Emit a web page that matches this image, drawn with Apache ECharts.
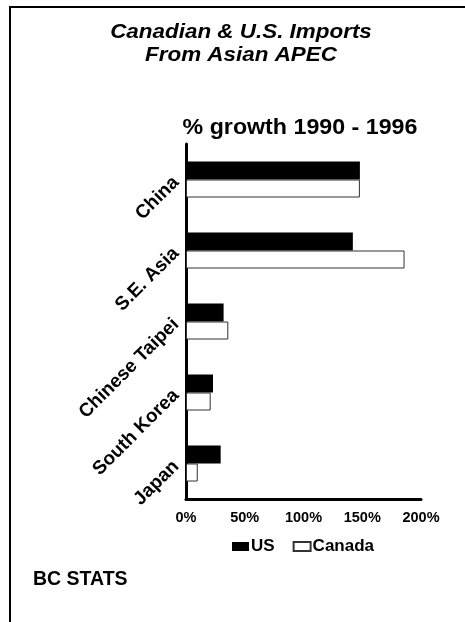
<!DOCTYPE html>
<html>
<head>
<meta charset="utf-8">
<script src="https://cdn.jsdelivr.net/npm/echarts@6/dist/echarts.min.js"></script>
<style>
html,body{margin:0;padding:0;background:#fff;}
#c{width:465px;height:622px;}
</style>
</head>
<body>
<div id="c"></div>
<script>
const categories = ['China', 'S.E. Asia', 'Chinese Taipei', 'South Korea', 'Japan'];
const usValues = [148, 142, 32, 23, 29.5];
const canadaValues = [148, 186, 36, 21, 10];
const xTicks = ['0%', '50%', '100%', '150%', '200%'];
const titleLines = ['Canadian & U.S. Imports', 'From Asian APEC'];
const subTitle = '% growth 1990 - 1996';
const sourceText = 'BC STATS';

const FONT = '"Liberation Sans", Arial, sans-serif';
const chart = echarts.init(document.getElementById('c'), null, {renderer: 'canvas'});
chart.setOption({
  animation: false,
  backgroundColor: '#fff',
  grid: {left: 186, right: 44, top: 144, bottom: 123, containLabel: false},
  xAxis: {
    type: 'value', min: 0, max: 200, interval: 50,
    axisLine: {show: true, lineStyle: {color: '#000', width: 3}},
    axisTick: {show: false},
    splitLine: {show: false},
    axisLabel: {
      margin: 11, color: '#000', fontFamily: FONT, fontWeight: 'bold', fontSize: 14.5,
      formatter: function (v) { return xTicks[Math.round(v / 50)]; }
    }
  },
  yAxis: {
    type: 'category', inverse: true, data: categories,
    axisLine: {show: true, lineStyle: {color: '#000', width: 3}},
    axisTick: {show: false},
    axisLabel: {rotate: 45, margin: 10, color: '#000', fontFamily: FONT, fontWeight: 'bold', fontSize: 19}
  },
  legend: {
    left: 227, top: 533, itemWidth: 17, itemHeight: 9, itemGap: 18,
    icon: 'rect',
    textStyle: {color: '#000', fontFamily: FONT, fontWeight: 'bold', fontSize: 17, padding: [0, 0, 0, -3]},
    data: ['US', 'Canada']
  },
  series: [
    {name: 'US', type: 'bar', data: usValues, barWidth: 18, barGap: '0%',
     itemStyle: {color: '#000'}},
    {name: 'Canada', type: 'bar', data: canadaValues, barWidth: 18, barGap: '0%',
     itemStyle: {color: '#fff', borderColor: '#333', borderWidth: 1}}
  ],
  graphic: [
    {type: 'line', shape: {x1: 9, y1: 7, x2: 465, y2: 7}, style: {stroke: '#000', lineWidth: 2}},
    {type: 'line', shape: {x1: 10, y1: 6, x2: 10, y2: 622}, style: {stroke: '#000', lineWidth: 2}},
    {type: 'text', x: 241, y: 33, scaleX: 1.15, style: {text: titleLines[0], font: 'italic bold 19.5px ' + FONT, fill: '#000', textAlign: 'center', textVerticalAlign: 'middle'}},
    {type: 'text', x: 241, y: 55.5, scaleX: 1.15, style: {text: titleLines[1], font: 'italic bold 19.5px ' + FONT, fill: '#000', textAlign: 'center', textVerticalAlign: 'middle'}},
    {type: 'text', x: 300, y: 128.5, scaleX: 1.08, style: {text: subTitle, font: 'bold 21.5px ' + FONT, fill: '#000', textAlign: 'center', textVerticalAlign: 'middle'}},
    {type: 'text', x: 33, y: 580, style: {text: sourceText, font: 'bold 19.5px ' + FONT, fill: '#000', textAlign: 'left', textVerticalAlign: 'middle'}}
  ]
});
</script>
</body>
</html>
